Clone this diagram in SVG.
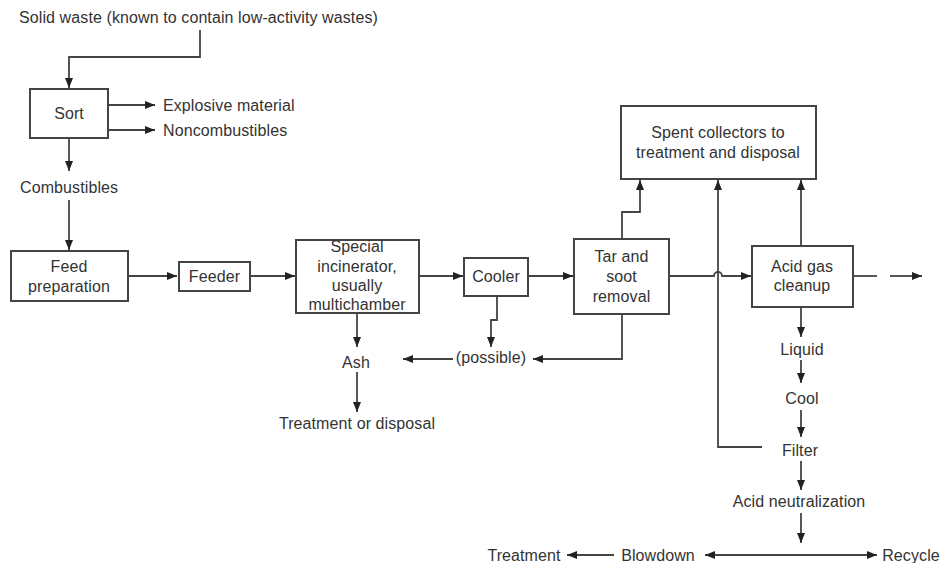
<svg xmlns="http://www.w3.org/2000/svg" width="943" height="563" viewBox="0 0 943 563">
<defs>
<marker id="ah" viewBox="0 0 10 8" refX="10" refY="4" markerWidth="10" markerHeight="9" markerUnits="userSpaceOnUse" orient="auto-start-reverse">
<path d="M0,0 L10,4 L0,8 Z" fill="#222"/>
</marker>
</defs>
<style>
text{font-family:"Liberation Sans",Arial,sans-serif;font-size:16px;letter-spacing:0.1px;fill:#333;}
.c{text-anchor:middle;}
.box{fill:#fff;stroke:#444;stroke-width:2;}
.ln{fill:none;stroke:#444;stroke-width:1.8;}
.ar{fill:none;stroke:#444;stroke-width:1.8;marker-end:url(#ah);}
</style>
<rect width="943" height="563" fill="#fff"/>
<g id="connectors">
<path class="ar" d="M200,30 V57 H69 V88"/>
<path class="ar" d="M108,105 H155"/>
<path class="ar" d="M108,130 H155"/>
<path class="ar" d="M69,138 V171"/>
<path class="ar" d="M69,200 V250"/>
<path class="ar" d="M128,276 H177"/>
<path class="ar" d="M250,276 H295"/>
<path class="ar" d="M419,276 H463"/>
<path class="ar" d="M528,276 H573"/>
<path class="ar" d="M669,276 H714 A4,4 0 0 1 722,276 H751"/>
<path class="ln" d="M853,276 H877"/>
<path class="ar" d="M890,276 H922"/>
<path class="ar" d="M497,296 V320 H491 V347"/>
<path class="ar" d="M622,314 V359 H533"/>
<path class="ar" d="M453,359 H403"/>
<path class="ar" d="M357,313 V347"/>
<path class="ar" d="M357,372 V412"/>
<path class="ar" d="M622,239 V212 H640 V180"/>
<path class="ar" d="M762,447 H718 V180"/>
<path class="ar" d="M801,246 V180"/>
<path class="ar" d="M801,307 V337"/>
<path class="ar" d="M801,360 V383"/>
<path class="ar" d="M801,410 V437"/>
<path class="ar" d="M801,461 V490"/>
<path class="ar" d="M801,513 V543"/>
<path class="ar" d="M614,555 H567"/>
<path class="ar" d="M791,555 H705"/>
<path class="ar" d="M791,555 H877"/>
</g>
<g id="title"><text x="19" y="23">Solid waste (known to contain low-activity wastes)</text></g>
<g id="sort"><rect class="box" x="30" y="89" width="78" height="49"/><text class="c" x="69" y="119">Sort</text></g>
<g id="explosive"><text x="163" y="111">Explosive material</text></g>
<g id="noncomb"><text x="163" y="136">Noncombustibles</text></g>
<g id="comb"><text x="20" y="193">Combustibles</text></g>
<g id="feedprep"><rect class="box" x="11" y="251" width="117" height="50"/><text class="c" x="69" y="272">Feed</text><text class="c" x="69" y="292">preparation</text></g>
<g id="feeder"><rect class="box" x="179" y="262" width="71" height="29"/><text class="c" x="214.5" y="282">Feeder</text></g>
<g id="incinerator"><rect class="box" x="296" y="240" width="123" height="73"/><text class="c" x="357" y="252">Special</text><text class="c" x="357" y="272">incinerator,</text><text class="c" x="357" y="291">usually</text><text class="c" x="357" y="310">multichamber</text></g>
<g id="cooler"><rect class="box" x="464" y="258" width="64" height="38"/><text class="c" x="496" y="282">Cooler</text></g>
<g id="tar"><rect class="box" x="574" y="239" width="95" height="75"/><text class="c" x="621.5" y="262">Tar and</text><text class="c" x="621.5" y="282">soot</text><text class="c" x="621.5" y="302">removal</text></g>
<g id="acidgas"><rect class="box" x="752" y="246" width="101" height="61"/><text class="c" x="802" y="272">Acid gas</text><text class="c" x="802" y="291">cleanup</text></g>
<g id="spent"><rect class="box" x="621" y="106" width="195" height="73"/><text class="c" x="718" y="138">Spent collectors to</text><text class="c" x="718" y="158">treatment and disposal</text></g>
<g id="possible"><text class="c" x="491" y="363">(possible)</text></g>
<g id="ash"><text class="c" x="356" y="368">Ash</text></g>
<g id="treatdisp"><text class="c" x="357" y="429">Treatment or disposal</text></g>
<g id="liquid"><text class="c" x="802" y="355">Liquid</text></g>
<g id="cool"><text class="c" x="802" y="404">Cool</text></g>
<g id="filter"><text class="c" x="800" y="456">Filter</text></g>
<g id="acidneut"><text class="c" x="799" y="507">Acid neutralization</text></g>
<g id="blowdown"><text class="c" x="658" y="561">Blowdown</text></g>
<g id="treatment"><text class="c" x="524" y="561">Treatment</text></g>
<g id="recycle"><text class="c" x="911" y="561">Recycle</text></g>
</svg>
